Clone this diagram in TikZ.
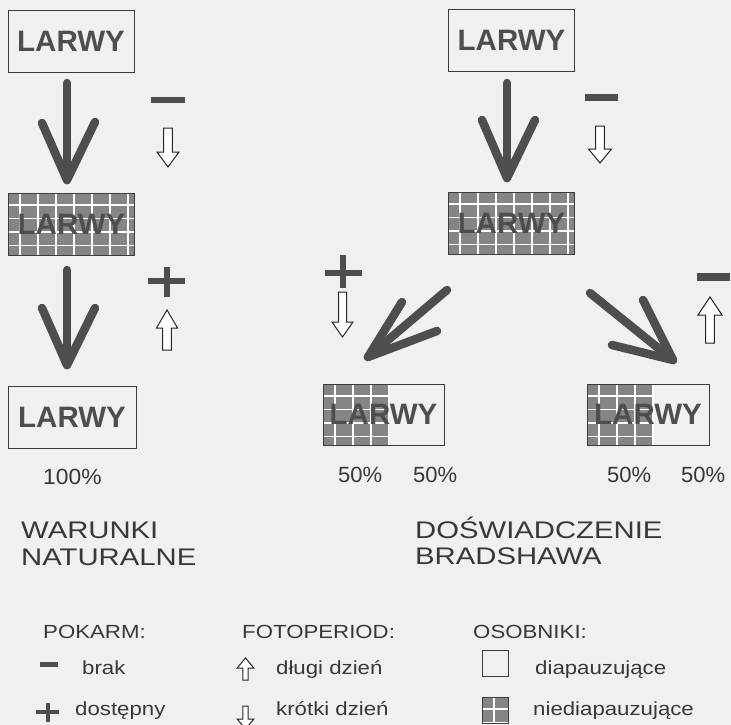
\documentclass[tikz,border=0pt]{standalone}
\usepackage{fontspec}
\setmainfont{Liberation Sans}
\definecolor{paper}{HTML}{F0F0F0}
\definecolor{ink}{HTML}{4E4E4E}
\definecolor{txt}{HTML}{383838}
\definecolor{boxline}{HTML}{3C3C3C}
\definecolor{cellgrey}{HTML}{858585}
% horizontal stretch of a text
\newcommand{\hstretch}[2]{\scalebox{#1}[1]{#2}}
% stippled cells with a white grid: x1, y1, x2, y2
\newcommand{\cells}[4]{%
  \begin{scope}
    \clip (#1,#2) rectangle (#3,#4);
    \fill[cellgrey] (#1,#2) rectangle (#3,#4);
    \foreach \k in {0,...,7} {\draw[gridline] ({#1+12+18*\k},#2) -- ++(0,{#4-#2});}
    \foreach \k in {0,...,4} {\draw[gridline] (#1,{#2+12+13.5*\k}) -- ++({#3-#1},0);}
  \end{scope}}
% hollow arrow: x, tail y, direction (1 down, -1 up), shaft half width, head half width, shaft length, head length
\newcommand{\hollowarrow}[7]{%
  \draw[hollow] ({#1-#4},{#2}) -- ({#1+#4},{#2}) -- ({#1+#4},{#2+#3*#6}) -- ({#1+#5},{#2+#3*#6})
    -- ({#1},{#2+#3*(#6+#7)}) -- ({#1-#5},{#2+#3*#6}) -- ({#1-#4},{#2+#3*#6}) -- cycle;}
\begin{document}
\begin{tikzpicture}[x=1pt,y=-1pt,
  larwa/.style={draw=boxline, line width=0.9pt, minimum width=126pt, minimum height=62pt,
    inner sep=0pt, text=ink, font=\fontsize{29.5}{30}\selectfont\bfseries},
  bigarrow/.style={draw=ink, line width=8.5pt, line cap=round, line join=round},
  hollow/.style={draw=black!85, line width=1pt, fill=white},
  gridline/.style={draw=white, line width=1.6pt},
  sign/.style={fill=ink},
  pct/.style={anchor=base west, inner sep=0pt, text=txt, font=\fontsize{22}{24}\selectfont},
  title/.style={anchor=base west, inner sep=0pt, text=txt, font=\fontsize{24}{26}\selectfont},
  legend/.style={anchor=base west, inner sep=0pt, text=txt, font=\fontsize{19}{21}\selectfont}]
\useasboundingbox (0,0) rectangle (731,725);
\fill[paper] (0,0) rectangle (731,725);
\clip (0,0) rectangle (731,725);

% ---- stippled (non-diapausing) areas
\cells{8}{193}{135}{256}
\cells{448}{192}{575}{254}
\cells{323}{384}{389}{445}
\cells{587}{384}{654}{445}

% ---- larvae boxes
\node[larwa] (b1) at (71,41.5) {LARWY};
\node[larwa] (b2) at (71.5,224.5) {LARWY};
\node[larwa, minimum width=128pt] (b3) at (72,417) {LARWY};
\node[larwa] (b4) at (511.5,40) {LARWY};
\node[larwa] (b5) at (511.5,223) {LARWY};
\node[larwa, minimum width=121pt, minimum height=61pt] (b6) at (383.5,414.5) {LARWY};
\node[larwa, minimum width=122pt, minimum height=61pt] (b7) at (648,414.5) {LARWY};

% ---- big arrows
\coordinate (a1s) at (67,83);  \coordinate (a1t) at (67,180);
\coordinate (a1l) at (42,123); \coordinate (a1r) at (95,122);
\coordinate (a2s) at (67,270); \coordinate (a2t) at (67,365);
\coordinate (a2l) at (42,308); \coordinate (a2r) at (95,308);
\coordinate (a3s) at (507,83); \coordinate (a3t) at (507,178);
\coordinate (a3l) at (482,120); \coordinate (a3r) at (535,120);
\coordinate (a4s) at (447,290); \coordinate (a4t) at (368,357);
\coordinate (a4l) at (402,302); \coordinate (a4r) at (437,331);
\coordinate (a5s) at (590,293); \coordinate (a5t) at (673,360);
\coordinate (a5l) at (643,300); \coordinate (a5r) at (612,345);
\foreach \a in {a1,a2,a3,a4,a5} {
  \draw[bigarrow] (\a s) -- (\a t);
  \draw[bigarrow] (\a l) -- (\a t) -- (\a r);
}

% ---- food: minus / plus
\fill[sign] (151,97) rectangle (185,103);
\fill[sign] (585,94) rectangle (618,101);
\fill[sign] (697,273) rectangle (730,281);
\fill[sign] (148,278) rectangle (185,284);
\fill[sign] (164,267) rectangle (170,297);
\fill[sign] (325,270) rectangle (362,276);
\fill[sign] (340,255) rectangle (346,288);

% ---- photoperiod: hollow arrows
\hollowarrow{168}{128}{1}{4.3}{11}{24}{15}
\hollowarrow{600}{126}{1}{4.3}{11.5}{23}{14}
\hollowarrow{342.5}{292}{1}{4}{10.5}{30}{15}
\hollowarrow{167}{350}{-1}{4.3}{10.5}{22}{18}
\hollowarrow{710}{343}{-1}{4.3}{12}{28}{18}

% ---- percentages
\node[pct] (p1) at (43,484) {\hstretch{1.04}{100\%}};
\node[pct] (p2) at (338,482) {50\%};
\node[pct] (p3) at (413,482) {50\%};
\node[pct] (p4) at (607,482) {50\%};
\node[pct] (p5) at (681,482) {50\%};

% ---- captions
\node[title] (t1) at (21,538) {\hstretch{1.22}{WARUNKI}};
\node[title] (t2) at (21,565) {\hstretch{1.22}{NATURALNE}};
\node[title] (t3) at (415,538) {\hstretch{1.22}{DOŚWIADCZENIE}};
\node[title] (t4) at (415,564) {\hstretch{1.22}{BRADSHAWA}};

% ---- legend
\node[legend] (l1) at (43,638) {\hstretch{1.17}{POKARM:}};
\node[legend] (l2) at (242,638) {\hstretch{1.17}{FOTOPERIOD:}};
\node[legend] (l3) at (473,638) {\hstretch{1.17}{OSOBNIKI:}};

\fill[sign] (40,662) rectangle (58,667);
\node[legend] (l4) at (82,674) {\hstretch{1.17}{brak}};
\fill[sign] (36,710) rectangle (59,714);
\fill[sign] (45.5,703) rectangle (49.5,722);
\node[legend] (l5) at (75,715) {\hstretch{1.17}{dostępny}};

\hollowarrow{245.5}{680}{-1}{2.7}{8.3}{12}{10}
\node[legend] (l6) at (276,674) {\hstretch{1.17}{długi dzień}};
\hollowarrow{245.5}{706}{1}{2.7}{8.3}{13}{10}
\node[legend] (l7) at (276,715) {\hstretch{1.17}{krótki dzień}};

\draw[boxline, line width=0.9pt] (482,650) rectangle (508,676);
\node[legend] (l8) at (535,674) {\hstretch{1.17}{diapauzujące}};
\cells{482}{697}{508}{723}
\draw[boxline, line width=0.9pt] (482,697) rectangle (508,723);
\node[legend] (l9) at (533,715) {\hstretch{1.17}{niediapauzujące}};
\end{tikzpicture}
\end{document}
